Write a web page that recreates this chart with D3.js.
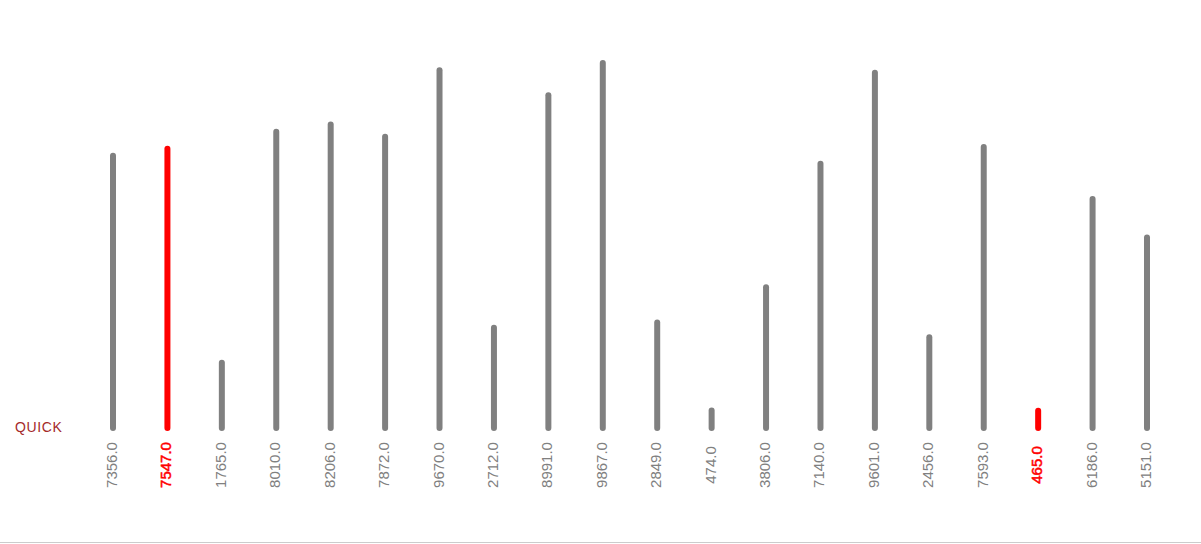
<!DOCTYPE html>
<html>
<head>
<meta charset="utf-8">
<script src="https://cdn.jsdelivr.net/npm/d3@7"></script>
<style>
  body { margin: 0; background: #fff; }
  svg { display: block; font-family: "Liberation Sans", Arial, sans-serif; }
</style>
</head>
<body>
<svg width="1201" height="544"></svg>
<script>
const labels = ['7356.0', '7547.0', '1765.0', '8010.0', '8206.0', '7872.0', '9670.0', '2712.0', '8991.0', '9867.0',
    '2849.0', '474.0', '3806.0', '7140.0', '9601.0', '2456.0', '7593.0', '465.0', '6186.0', '5151.0'];
const values = [7356, 7547, 1765, 8010, 8206, 7872, 9670, 2712, 8991, 9867,
    2849, 474, 3806, 7140, 9601, 2456, 7593, 465, 6186, 5151];
const highlighted = ['7547.0', '465.0'];
const rowLabel = 'QUICK';

const svg = d3.select('svg'),
    width = +svg.attr('width'),
    height = +svg.attr('height');

const x = d3.scalePoint()
    .domain(labels)
    .range([113, 1147]);

const y = d3.scaleLinear()
    .domain([0, 10000])
    .range([428, 58]);

const colorOf = d => highlighted.includes(d) ? '#ff0000' : '#808080';

// bars
svg.append('g')
    .selectAll('line')
    .data(labels)
    .join('line')
    .attr('x1', d => x(d))
    .attr('x2', d => x(d))
    .attr('y1', y(0))
    .attr('y2', (d, i) => y(values[i]))
    .attr('stroke', colorOf)
    .attr('stroke-width', 6)
    .attr('stroke-linecap', 'round');

// rotated value labels
svg.append('g')
    .selectAll('text')
    .data(labels)
    .join('text')
    .attr('transform', d => 'translate(' + (x(d) + 4) + ',465)rotate(-90)')
    .attr('text-anchor', 'middle')
    .attr('font-size', 15)
    .attr('fill', colorOf)
    .attr('stroke', d => highlighted.includes(d) ? '#ff0000' : 'none')
    .attr('stroke-width', 0.5)
    .text(d => d);

// row label
svg.append('text')
    .attr('x', 15)
    .attr('y', 432)
    .attr('font-size', 14)
    .attr('letter-spacing', 0.6)
    .attr('fill', '#a52a2a')
    .text(rowLabel);

// bottom rule
svg.append('line')
    .attr('x1', 0)
    .attr('x2', width)
    .attr('y1', height - 1.5)
    .attr('y2', height - 1.5)
    .attr('stroke', '#cccccc')
    .attr('stroke-width', 1);
</script>
</body>
</html>
